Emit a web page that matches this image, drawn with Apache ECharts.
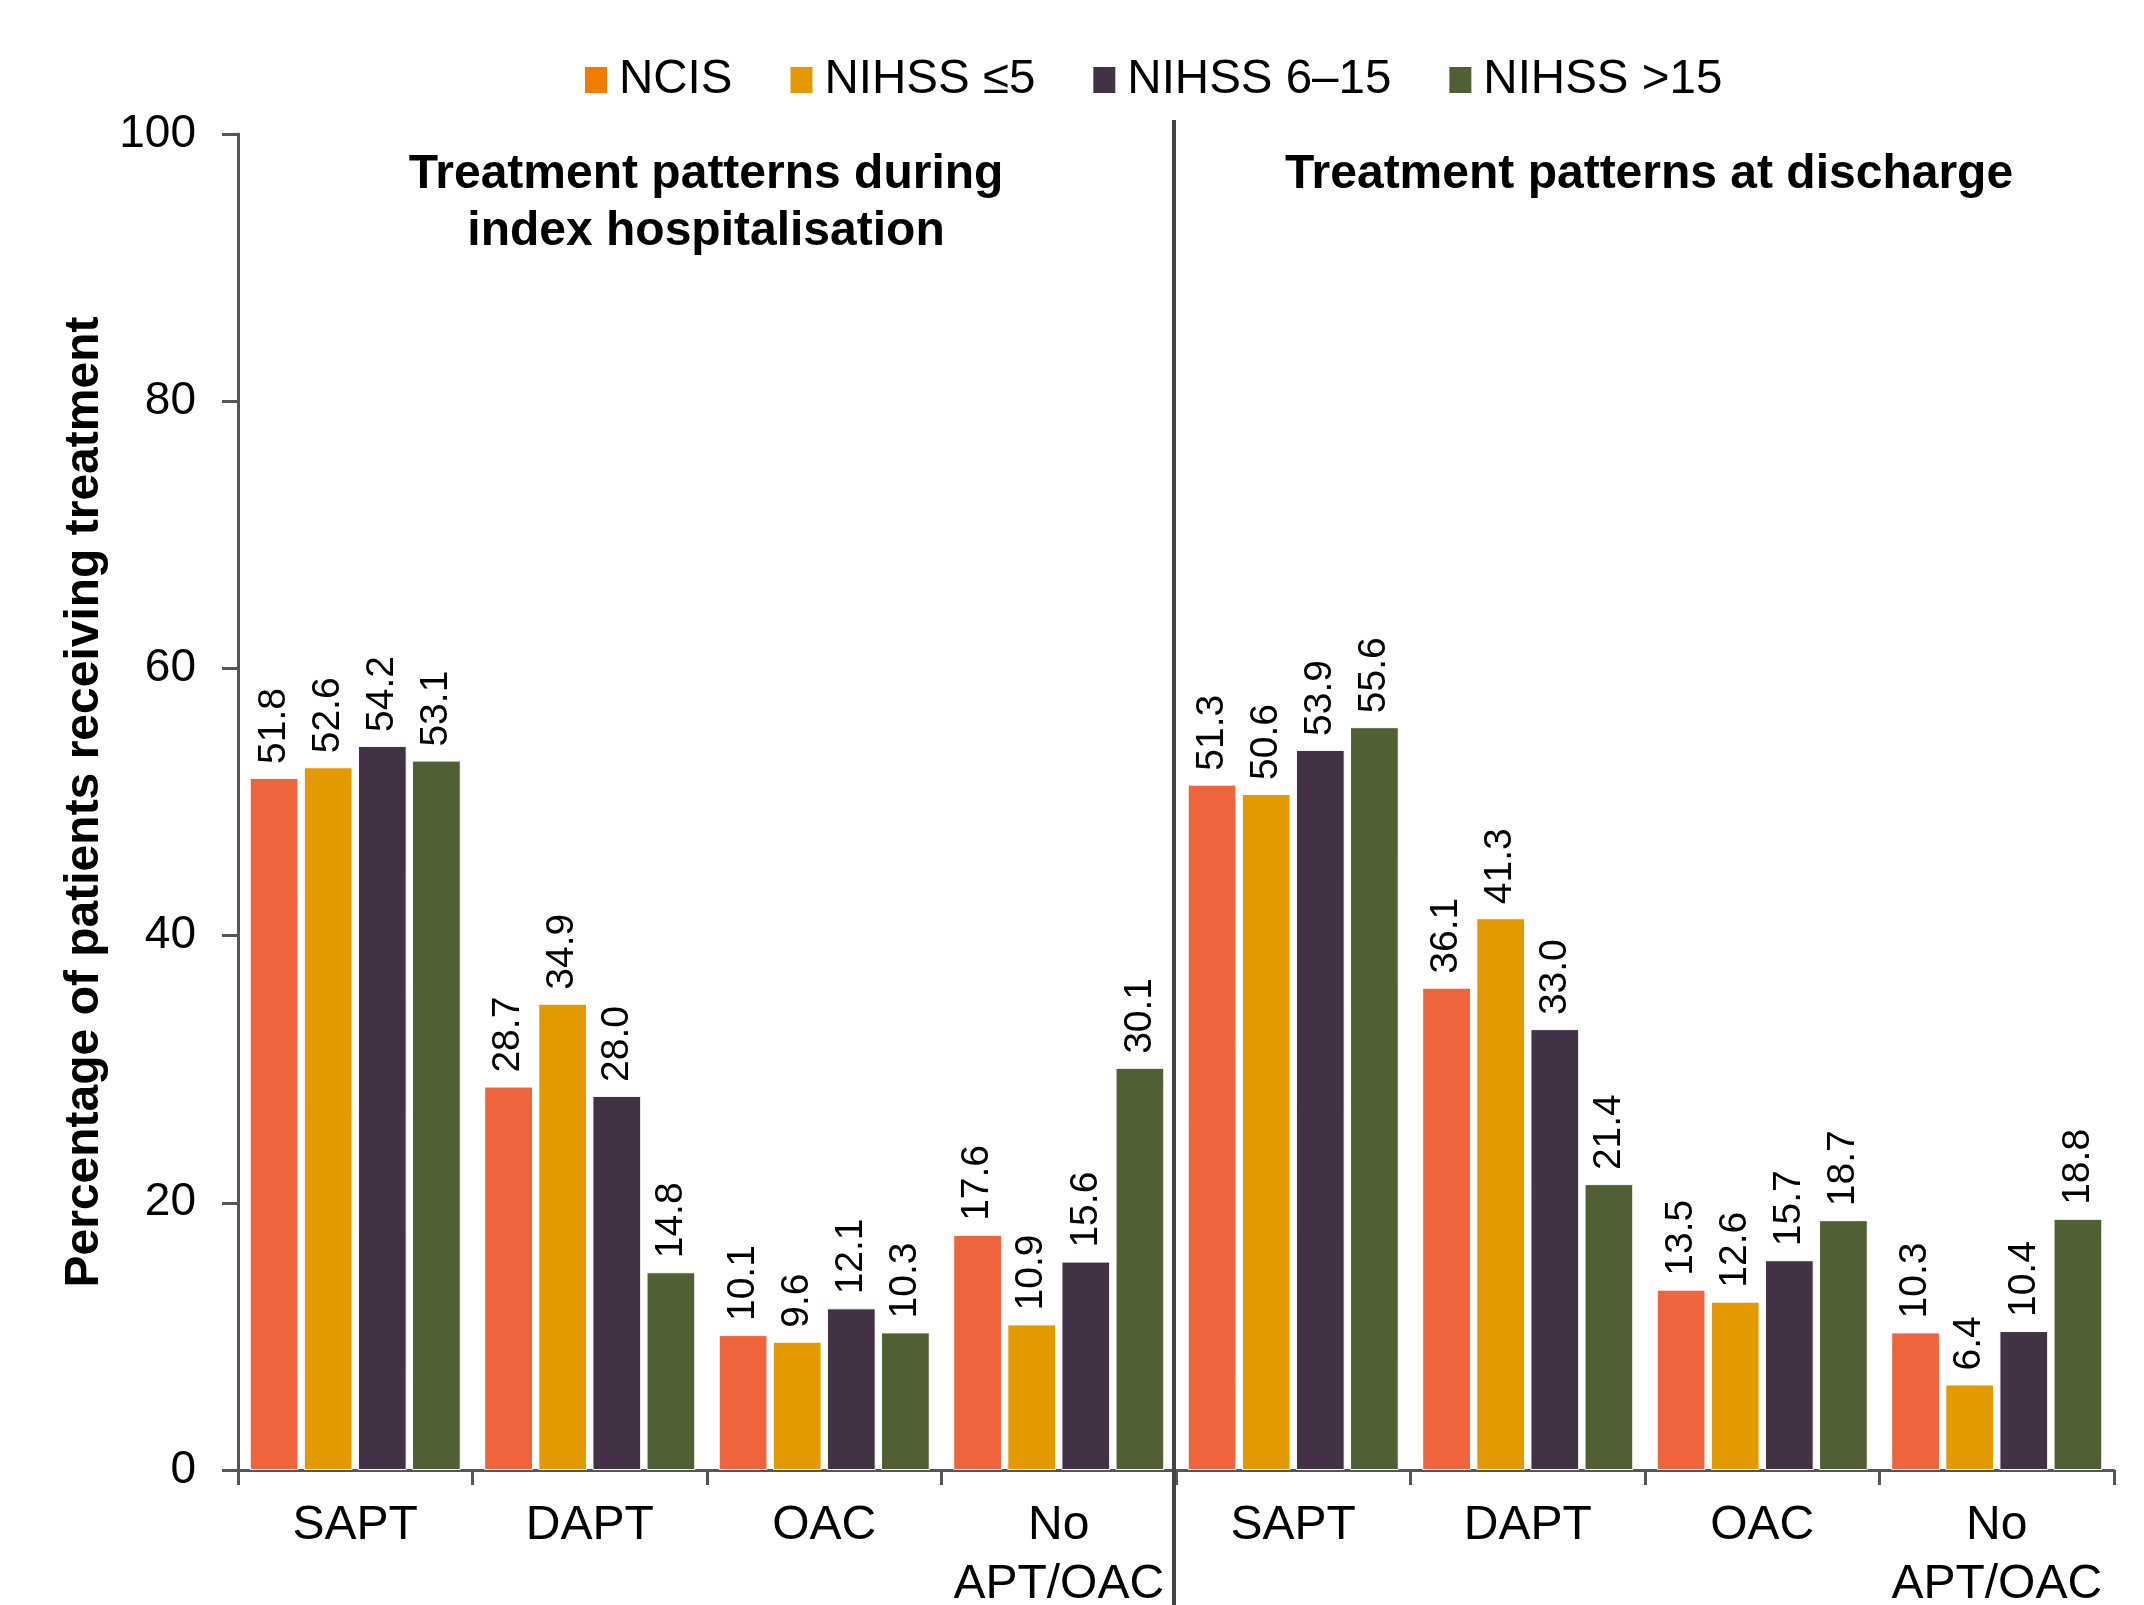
<!DOCTYPE html>
<html>
<head>
<meta charset="utf-8">
<script src="https://cdn.jsdelivr.net/npm/echarts@6/dist/echarts.min.js"></script>
<style>
  html, body { margin: 0; padding: 0; background: #fff; }
  #chart { width: 2144px; height: 1605px; }
</style>
</head>
<body>
<div id="chart"></div>
<script>
// categories: first 4 = during index hospitalisation, last 4 = at discharge
const categories = ['SAPT', 'DAPT', 'OAC', 'No\nAPT/OAC', 'SAPT', 'DAPT', 'OAC', 'No\nAPT/OAC']
const seriesNames = ['NCIS', 'NIHSS ≤5', 'NIHSS 6–15', 'NIHSS >15']
const ncis = [51.8, 28.7, 10.1, 17.6, 51.3, 36.1, 13.5, 10.3]
const nihssLow = [52.6, 34.9, 9.6, 10.9, 50.6, 41.3, 12.6, 6.4]
const nihssMid = [54.2, 28.0, 12.1, 15.6, 53.9, 33.0, 15.7, 10.4]
const nihssHigh = [53.1, 14.8, 10.3, 30.1, 55.6, 21.4, 18.7, 18.8]
const yTicks = [0, 20, 40, 60, 80, 100]
const panelTitles = ['Treatment patterns during\nindex hospitalisation', 'Treatment patterns at discharge']

const barColors = ['#EE643C', '#E39A00', '#433246', '#515F34']
const legendColors = ['#F07D00', '#E39A00', '#433246', '#515F34']
const font = 'Liberation Sans, Arial, sans-serif'

const chart = echarts.init(document.getElementById('chart'))

const values = [ncis, nihssLow, nihssMid, nihssHigh]

const option = {
  animation: false,
  textStyle: { fontFamily: font },
  title: [
    {
      text: panelTitles[0],
      left: 701, top: 141, textAlign: 'center',
      textStyle: { fontSize: 48, fontWeight: 'bold', color: '#000', lineHeight: 57, fontFamily: font }
    },
    {
      text: panelTitles[1],
      left: 1644, top: 141, textAlign: 'center',
      textStyle: { fontSize: 48, fontWeight: 'bold', color: '#000', lineHeight: 57, fontFamily: font }
    }
  ],
  legend: {
    left: 578, top: 51,
    itemWidth: 24, itemHeight: 28, itemGap: 56,
    icon: 'rect',
    textStyle: { fontSize: 47.5, color: '#000', padding: [0, 0, 0, 6], fontFamily: font },
    data: seriesNames.map((n, i) => ({ name: n, itemStyle: { color: legendColors[i] } }))
  },
  grid: { left: 238, right: 30, top: 134, bottom: 135, containLabel: false, outerBoundsMode: 'none' },
  xAxis: {
    type: 'category',
    data: categories,
    axisLine: { lineStyle: { color: '#555', width: 3 } },
    axisTick: { show: true, length: 15, lineStyle: { color: '#555', width: 3 } },
    axisLabel: { fontSize: 48, color: '#000', margin: 26, lineHeight: 59, interval: 0 }
  },
  yAxis: {
    type: 'value',
    min: 0, max: 100, interval: 20,
    name: 'Percentage of patients receiving treatment',
    nameLocation: 'middle',
    nameGap: 128,
    nameTextStyle: { fontSize: 48, fontWeight: 'bold', color: '#000', fontFamily: font },
    splitLine: { show: false },
    axisLine: { show: true, lineStyle: { color: '#555', width: 3 } },
    axisTick: { show: true, length: 16, lineStyle: { color: '#555', width: 3 } },
    axisLabel: {
      fontSize: 46, color: '#000', margin: 42,
      formatter: (v) => (yTicks.indexOf(v) >= 0 ? String(v) : '')
    }
  },
  series: seriesNames.map((name, i) => ({
    name: name,
    type: 'bar',
    data: values[i],
    barGap: '11%',
    barCategoryGap: '10%',
    itemStyle: { color: barColors[i], borderColor: '#fff', borderWidth: 1 },
    label: {
      show: true,
      position: 'top',
      rotate: 90,
      align: 'left',
      verticalAlign: 'middle',
      distance: 14,
      fontSize: 39,
      color: '#000',
      formatter: (p) => p.value.toFixed(1)
    }
  }))
}

chart.setOption(option)

// divider between the two panels, at the boundary of category 3 and 4
const x3 = chart.convertToPixel({ xAxisIndex: 0 }, 3)
const x4 = chart.convertToPixel({ xAxisIndex: 0 }, 4)
const xd = (x3 + x4) / 2 - 2
chart.setOption({
  graphic: [{
    type: 'line',
    shape: { x1: xd, y1: 120, x2: xd, y2: 1605 },
    style: { stroke: '#444', lineWidth: 4 },
    z: 10
  }]
})
</script>
</body>
</html>
